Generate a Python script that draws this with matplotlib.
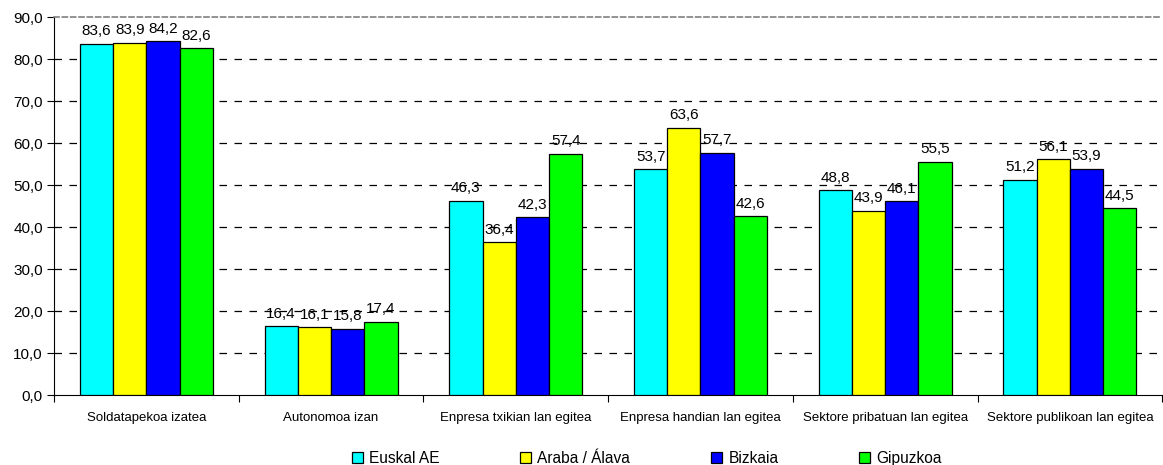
import numpy as np
import matplotlib.pyplot as plt

plt.rcParams['font.family'] = ['Liberation Sans', 'DejaVu Sans']

categories = ["Soldatapekoa izatea", "Autonomoa izan", "Enpresa txikian lan egitea",
              "Enpresa handian lan egitea", "Sektore pribatuan lan egitea",
              "Sektore publikoan lan egitea"]
series = ["Euskal AE", "Araba / Álava", "Bizkaia", "Gipuzkoa"]
euskal = [83.6, 16.4, 46.3, 53.7, 48.8, 51.2]
araba = [83.9, 16.1, 36.4, 63.6, 43.9, 56.1]
bizkaia = [84.2, 15.8, 42.3, 57.7, 46.1, 53.9]
gipuzkoa = [82.6, 17.4, 57.4, 42.6, 55.5, 44.5]
colors = ["#00FFFF", "#FFFF00", "#0000FF", "#00FF00"]

fig = plt.figure(figsize=(11.63, 4.65), dpi=100)
ax = fig.add_axes([0.0464, 0.1505, 0.953, 0.8129])

x = np.arange(len(categories))
w = 0.18
for i, (name, vals, c) in enumerate(zip(series, [euskal, araba, bizkaia, gipuzkoa], colors)):
    bars = ax.bar(x + (i - 1.5) * w, vals, w, color=c, edgecolor='black', linewidth=0.9,
                  label=name, zorder=3)
    ax.bar_label(bars, labels=[f"{v:.1f}".replace('.', ',') for v in vals],
                 padding=4, fontsize=11, zorder=4)

ax.set_xlim(-0.5, len(categories) - 0.5)
ax.set_ylim(0, 90)
ax.set_yticks(np.arange(0, 91, 10))
ax.set_yticklabels([f"{v:.1f}".replace('.', ',') for v in np.arange(0, 91, 10)], fontsize=11)
for y in range(10, 90, 10):
    ax.axhline(y, color='black', linewidth=0.9, linestyle=(0, (6, 6)), zorder=1)

# category labels between boundary ticks
ax.set_xticks(np.arange(-0.5, len(categories), 1.0))
ax.set_xticklabels([])
ax.set_xticks(x, minor=True)
ax.set_xticklabels(categories, minor=True, fontsize=9.5)
ax.tick_params(axis='x', which='minor', length=0, pad=12)
ax.tick_params(axis='x', which='major', length=5, direction='out')
ax.tick_params(axis='y', length=5, direction='out', pad=3)

ax.spines['right'].set_visible(False)
ax.spines['top'].set_color('#808080')
ax.spines['top'].set_linestyle((0, (3, 2)))
ax.spines['top'].set_linewidth(1.2)

ax.legend(loc='lower center', bbox_to_anchor=(0.535, -0.205), ncol=4, frameon=False,
          fontsize=11.2, handlelength=0.7, handleheight=0.7, handletextpad=0.4,
          columnspacing=5.2, borderaxespad=0)

plt.savefig("out.png", dpi=100)
